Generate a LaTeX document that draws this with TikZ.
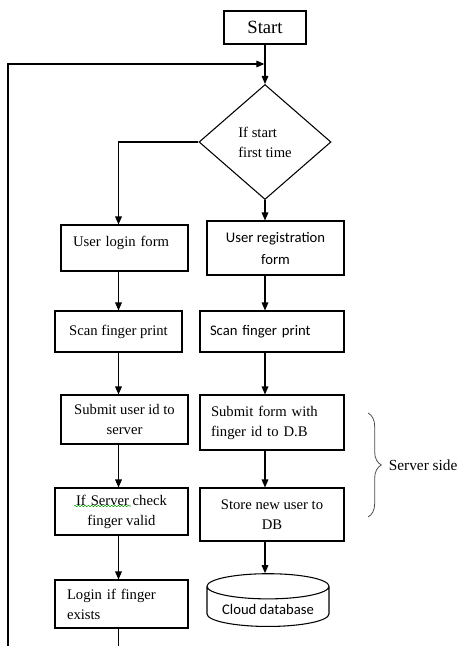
\documentclass[tikz,border=0pt]{standalone}
\usepackage{fontspec}
\setmainfont{Liberation Serif}
\newfontfamily\calib{Carlito}
\usetikzlibrary{positioning,shapes.geometric,arrows.meta}
\usetikzlibrary{decorations.pathreplacing,decorations.pathmorphing}

\tikzset{
    box/.style={draw, line width=0.8pt, align=center, inner sep=0pt,
        font=\fontsize{11}{15}\selectfont},
    sz/.style 2 args={minimum width=#1*0.75pt, minimum height=#2*0.75pt},
    lbox/.style={box, align=left, text width=#1*0.75pt},
    arr/.style={line width=0.8pt, -{Triangle[length=6pt,width=5pt]}},
    plain/.style={line width=0.8pt},
}

\begin{document}
\begin{tikzpicture}[x=0.75pt,y=-0.75pt]
        \useasboundingbox (0,0) rectangle (461,646);

        % columns of the two branches
        \coordinate (lcol) at (118.5,0);
        \coordinate (rcol) at (265,0);

        \node[box, sz={82}{33}, font=\fontsize{14}{16}\selectfont] (start) at (265,27.5) {Start};
        \node[draw, line width=0.8pt, diamond, sz={132}{115}, inner sep=0pt, align=left,
            font=\fontsize{11}{15}\selectfont] (ifnew) at (265,142) {If start\\first time};

        % login side
        \node[lbox=103, sz={127}{46}, text height=8pt, text depth=11pt] (login) at (124.5,248) {User login form};
        \node[box, sz={127}{41}] (scanL) at (118.5,331.5) {Scan finger print};
        \node[box, sz={127}{49}] (submitL) at (124.5,419.5) {Submit user id to\\server};
        \node[box, sz={133}{47}] (checkL) at (121.5,511.5) {If\,\,Server check\\finger valid};
        \node[lbox=109, sz={133}{48}] (loginOK) at (121.5,604) {Login if finger\\exists};

        % registration side
        \node[box, sz={137}{54}, font=\calib\fontsize{11}{16.5}\selectfont] (reg) at (275.5,248) {User registration\\form};
        \node[lbox=124, sz={144}{41}, font=\calib\fontsize{11}{15}\selectfont] (scanR) at (272,331.5) {Scan finger print};
        \node[lbox=122, sz={144}{55}] (submitR) at (272,422.5) {Submit form with\\finger id to D.B};
        \node[box, sz={144}{53}] (store) at (272,514.5) {Store new user to\\DB};
        \node[draw, line width=0.8pt, cylinder, shape border rotate=90, aspect=0.25,
            sz={122}{50}, font=\calib\fontsize{11}{15}\selectfont] (cloud) at (268,609) {Cloud database};

        % spell check mark
        \draw[green!60!black, line width=0.4pt, decorate,
            decoration={snake,amplitude=0.5pt,segment length=2.5pt}] (74,506) -- (131,506);

        % loop back
        \coordinate (loopbot) at (8,646);
        \coordinate (loopin) at (265,64);
        \coordinate (loginend) at (118.5,646);
        \draw[arr, shorten >=0.5pt] (loopbot) |- (loopin);

        \draw[arr] (start.south -| rcol) -- (ifnew.north);
        \draw[arr] (ifnew.west) -| (login.north -| lcol);
        \draw[arr] (ifnew.south) -- (reg.north -| rcol);

        \draw[arr] (login.south -| lcol) -- (scanL.north -| lcol);
        \draw[arr] (scanL.south -| lcol) -- (submitL.north -| lcol);
        \draw[arr] (submitL.south -| lcol) -- (checkL.north -| lcol);
        \draw[arr] (checkL.south -| lcol) -- (loginOK.north -| lcol);
        \draw[plain] (loginOK.south -| lcol) -- (loginend);

        \draw[arr] (reg.south -| rcol) -- (scanR.north -| rcol);
        \draw[arr] (scanR.south -| rcol) -- (submitR.north -| rcol);
        \draw[arr] (submitR.south -| rcol) -- (store.north -| rcol);
        \draw[arr] (store.south -| rcol) -- (cloud.north -| rcol);

        % server side brace
        \draw[gray!60!black, line width=0.6pt, decorate, decoration={brace,amplitude=10pt}] (368,413) -- (368,517)
            node[midway, right=12pt, black, font=\fontsize{11.5}{14}\selectfont] (srv) {Server side};
\end{tikzpicture}
\end{document}
